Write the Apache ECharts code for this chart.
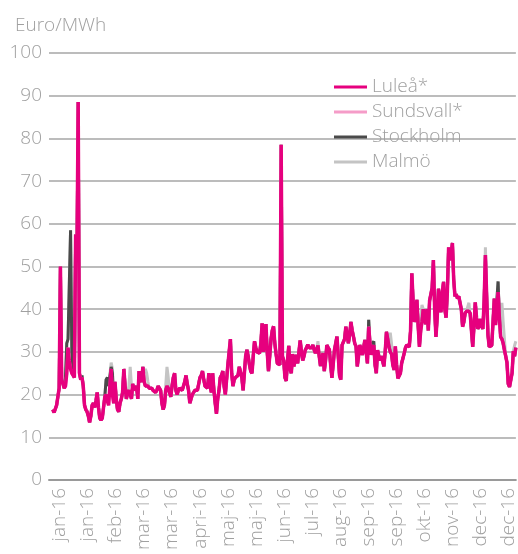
<!DOCTYPE html>
<html>
<head>
<meta charset="utf-8">
<script src="https://cdn.jsdelivr.net/npm/echarts@6/dist/echarts.min.js"></script>
<style>
  html, body { margin: 0; padding: 0; background: #fff; }
  #chart { width: 518px; height: 554px; }
</style>
</head>
<body>
<div id="chart"></div>
<script>
// daily prices 2016, day 0 = 1 jan
const lulea = [
  16.5, 15.8, 15.5, 17.5, 19.5, 21.5, 50, 23.5, 22.5, 21.5, 22, 25, 31, 28, 26, 25, 24.5, 24, 57.5, 51, 88.5, 25, 23.5, 24, 22, 17.5, 16.5, 16, 15, 13.5, 15,
  17.5, 18, 17, 18.5, 20.5, 17, 14.5, 14, 14.5, 17, 19.5, 20, 18.5, 17.5, 22, 26, 20, 18, 23, 19, 16.5, 16, 18, 19, 20.5, 26, 22, 19, 20.5,
  21, 20, 19, 22.5, 21, 21.5, 22, 19, 25.5, 23.5, 23, 26.5, 23, 22, 22, 22, 21.5, 21.5, 21.5, 21, 21, 20.5, 21, 22, 21.5, 21, 18, 16.5, 17.5, 21, 22,
  21.5, 20.5, 19.5, 22, 24, 25, 21, 20, 21, 21.5, 21.5, 21, 22, 23, 24.5, 22.5, 21, 18, 19, 20, 20.5, 21, 21, 21, 21, 24, 24.5, 25.5, 23.5, 22,
  22, 21.5, 25, 22, 20.5, 25, 21, 18, 15.5, 19, 21, 24, 24.5, 25.5, 22, 20, 20, 27, 30, 33, 25, 22, 23.5, 24, 24, 24.5, 26.5, 26.5, 24, 21, 25,
  29, 30.5, 29, 27, 25.5, 25, 29, 32.5, 31, 30, 30, 29.7, 32, 36.7, 30, 33, 36.5, 30, 25.5, 29, 33, 35, 36, 32, 29.5, 27.3, 27, 27, 78.5, 29,
  28, 24, 23.2, 28, 31.4, 26, 25, 29.5, 26.6, 28, 29.3, 27.3, 30, 32.7, 30, 28, 29, 30.4, 31, 31.7, 31, 30.8, 31, 31.6, 30.5, 29.7, 30.5, 31.5, 29, 26.7, 28.5,
  29.7, 25.5, 28, 31.6, 31, 30.5, 27, 23.9, 27, 30.4, 32, 33.6, 29, 24.5, 23.5, 31.6, 32, 33, 35.9, 34, 32, 34, 37, 35, 33.6, 32, 31.3, 26.6, 29, 31.6, 30.5,
  29.3, 31, 32.8, 30, 27.3, 35.9, 32, 29.3, 30.5, 31.6, 27, 25, 30.4, 29, 28, 29, 29, 26.6, 30, 34.7, 33, 31.2, 30, 29.5, 27, 25.8, 31.3, 27, 23.8, 23.5,
  25, 27.4, 28.5, 29.7, 31, 31.6, 31.5, 31.2, 35, 48.4, 42, 37, 39, 42.2, 36, 31.2, 35, 37, 40, 38, 36.5, 40, 35, 42, 43.5, 45, 51.5, 40, 33.5, 38, 44.8,
  41, 39.3, 44, 46.4, 40, 38, 44, 54.5, 51.5, 53, 55.5, 47, 43, 43.5, 42.5, 43, 43, 40, 35.9, 37, 39, 39.5, 39.5, 39.5, 39, 35, 31.2, 36, 41.6, 38,
  35.4, 36, 37.7, 36, 35.4, 42, 52.7, 43, 34, 31.2, 31, 31.5, 37, 42.5, 36.3, 40, 44, 38, 33.5, 33, 32, 30.4, 29, 27.5, 22.5, 21.8, 22, 25, 30.2, 29, 31
];
const sundsvall = [
  16.5, 15.8, 15.5, 17.5, 19.5, 21.5, 50, 23.5, 22.5, 21.5, 22, 25, 31, 28, 26, 25, 24.5, 24, 57.5, 51, 88.5, 25, 23.5, 24, 22, 17.5, 16.5, 16, 15, 13.5, 15,
  17.5, 18, 17, 18.5, 20.5, 17, 14.5, 14, 14.5, 17, 19.5, 20, 18.5, 17.5, 22, 26, 20, 18, 23, 19, 16.5, 16, 18, 19, 20.5, 26, 22, 19, 20.5,
  21, 20, 19, 22.5, 21, 21.5, 22, 19, 25.5, 23.5, 23, 26.5, 23, 22, 22, 22, 21.5, 21.5, 21.5, 21, 21, 20.5, 21, 22, 21.5, 21, 18, 16.5, 17.5, 21, 22,
  21.5, 20.5, 19.5, 22, 24, 25, 21, 20, 21, 21.5, 21.5, 21, 22, 23, 24.5, 22.5, 21, 18, 19, 20, 20.5, 21, 21, 21, 21, 24, 24.5, 25.5, 23.5, 22,
  22, 21.5, 25, 22, 20.5, 25, 21, 18, 15.5, 19, 21, 24, 24.5, 25.5, 22, 20, 20, 27, 30, 33, 25, 22, 23.5, 24, 24, 24.5, 26.5, 26.5, 24, 21, 25,
  29, 30.5, 29, 27, 25.5, 25, 29, 32.5, 31, 30, 30, 29.7, 32, 36.7, 30, 33, 36.5, 30, 25.5, 29, 33, 35, 36, 32, 29.5, 27.3, 27, 27, 78.5, 29,
  28, 24, 23.2, 28, 31.4, 26, 25, 29.5, 26.6, 28, 29.3, 27.3, 30, 32.7, 30, 28, 29, 30.4, 31, 31.7, 31, 30.8, 31, 31.6, 30.5, 29.7, 30.5, 31.5, 29, 26.7, 28.5,
  29.7, 25.5, 28, 31.6, 31, 30.5, 27, 23.9, 27, 30.4, 32, 33.6, 29, 24.5, 23.5, 31.6, 32, 33, 35.9, 34, 32, 34, 37, 35, 33.6, 32, 31.3, 26.6, 29, 31.6, 30.5,
  29.3, 31, 32.8, 30, 27.3, 35.9, 32, 29.3, 30.5, 31.6, 27, 25, 30.4, 29, 28, 29, 29, 26.6, 30, 34.7, 33, 31.2, 30, 29.5, 27, 25.8, 31.3, 27, 23.8, 23.5,
  25, 27.4, 28.5, 29.7, 31, 31.6, 31.5, 31.2, 35, 48.4, 42, 37, 39, 42.2, 36, 31.2, 35, 37, 40, 38, 36.5, 40, 35, 42, 43.5, 45, 51.5, 40, 33.5, 38, 44.8,
  41, 39.3, 44, 46.4, 40, 38, 44, 54.5, 51.5, 53, 55.5, 47, 43, 43.5, 42.5, 43, 43, 40, 35.9, 37, 39, 39.5, 39.5, 39.5, 39, 35, 31.2, 36, 41.6, 38,
  35.4, 36, 37.7, 36, 35.4, 42, 52.7, 43, 34, 31.2, 31, 31.5, 37, 42.5, 36.3, 40, 44, 38, 33.5, 33, 32, 30.4, 29, 27.5, 22.5, 21.8, 22, 25, 30.2, 29, 31
];
const stockholm = [
  16.5, 15.8, 15.5, 17.5, 19.5, 21.5, 50, 23.5, 22.5, 21.5, 24, 32, 33, 33, 58.5, 30, 25, 24, 57.5, 51, 88.5, 25, 23.5, 24.5, 22, 17.5, 16.5, 16, 15, 13.5, 15,
  17.5, 18, 17, 18.5, 20.5, 17, 14.5, 14, 14.5, 17, 19.5, 23.5, 24, 22, 22, 26.5, 25, 18, 23, 19, 16.5, 16, 18, 19, 20.5, 26, 22, 19, 20.5,
  21, 20, 19, 22.5, 21, 21.5, 22, 19, 25.5, 23.5, 23, 26.5, 23, 22, 22, 22, 21.5, 21.5, 21.5, 21, 21, 20.5, 21, 22, 21.5, 21, 18, 16.5, 17.5, 21, 22,
  21.5, 20.5, 19.5, 22, 24, 25, 21, 20, 21, 21.5, 21.5, 21, 22, 23, 24.5, 22.5, 21, 18, 19, 20, 20.5, 21, 21, 21, 21, 24, 24.5, 25.5, 23.5, 22,
  22, 21.5, 25, 22, 20.5, 25, 21, 18, 15.5, 19, 21, 24, 24.5, 25.5, 22, 20, 20, 27, 30, 33, 25, 22, 23.5, 24, 24, 24.5, 26.5, 26.5, 24, 21, 25,
  29, 30.5, 29, 27, 25.5, 25, 29, 32.5, 31, 30, 30, 29.7, 32, 36.7, 30, 33, 36.5, 30, 25.5, 29, 33, 35, 36, 32, 29.5, 27.3, 27, 27, 78.5, 29,
  28, 24, 23.2, 28, 31.4, 26, 25, 29.5, 26.6, 28, 29.3, 27.3, 30, 32.7, 30, 28, 29, 30.4, 31, 31.7, 31, 30.8, 31, 31.6, 30.5, 29.7, 30.5, 31.5, 29, 26.7, 28.5,
  29.7, 25.5, 28, 31.6, 31, 30.5, 27, 23.9, 27, 30.4, 32, 33.6, 29, 24.5, 23.5, 31.6, 32, 33, 35.9, 34, 32, 34, 37, 35, 33.6, 32, 31.3, 26.6, 29, 31.6, 30.5,
  29.3, 31, 32.8, 30, 27.3, 37.5, 32, 29.3, 32, 32.5, 27, 25, 30.4, 29, 28, 29, 29, 26.6, 30, 34.7, 33, 31.2, 30, 29.5, 27, 25.8, 31.3, 27, 23.8, 23.5,
  25, 27.4, 28.5, 29.7, 31, 31.6, 31.5, 31.2, 35, 48.4, 42, 37, 39, 42.2, 36, 31.2, 35, 37, 40, 38, 36.5, 40, 35, 42, 43.5, 45, 51.5, 40, 33.5, 38, 44.8,
  41, 39.3, 44, 46.4, 40, 38, 44, 54.5, 51.5, 53, 55.5, 47, 43, 43.5, 42.5, 43, 43, 40, 35.9, 37, 39, 39.5, 39.5, 39.5, 39, 35, 31.2, 36, 41.6, 38,
  35.4, 36, 37.7, 36, 35.4, 42, 52.7, 43, 34, 31.2, 31, 31.5, 37, 42.5, 36.3, 42, 46.5, 38, 33.5, 33, 32, 30.4, 29, 27.5, 22.5, 21.8, 22, 25, 30.2, 29, 31
];
const malmo = [
  16.5, 15.8, 15.5, 17.5, 19.5, 21.5, 50, 23.5, 22.5, 21.5, 24, 32, 33, 33, 58.5, 30, 25, 24, 57.5, 51, 88.5, 25, 23.5, 24.5, 22, 17.5, 16.5, 16, 15, 13.5, 15,
  17.5, 18, 17, 18.5, 20.5, 17, 14.5, 14, 14.5, 17, 19.5, 23.5, 24, 22, 22, 27.5, 26, 18, 23, 19, 16.5, 16, 18, 19, 20.5, 26, 22, 19, 20.5,
  22, 26.5, 22, 22.5, 21, 21.5, 22, 19, 25.5, 23.5, 23, 26.5, 25.5, 26, 25, 23, 21.5, 21.5, 21.5, 21, 21, 20.5, 21, 22, 21.5, 21, 18, 16.5, 17.5, 22, 26.5,
  24, 20.5, 19.5, 22, 24, 25, 21, 20, 21, 21.5, 21.5, 21, 22, 23, 24.5, 22.5, 21, 18, 19, 20, 20.5, 21, 21, 21, 21, 24, 24.5, 25.5, 23.5, 22,
  22, 21.5, 25, 22, 20.5, 25, 21, 18, 15.5, 19, 21, 24, 24.5, 25.5, 22, 20, 20, 27, 30, 33, 25, 22, 23.5, 24, 24, 24.5, 26.5, 26.5, 24, 21, 25,
  29, 30.5, 29, 27, 25.5, 25, 29, 32.5, 31, 30, 30, 29.7, 32, 36.7, 30, 33, 36.5, 30, 25.5, 29, 33, 35, 36, 32, 29.5, 27.3, 27, 27, 78.5, 29,
  28, 24, 23.2, 28, 31.4, 26, 25, 29.5, 26.6, 28, 29.3, 27.3, 30, 32.7, 30, 28, 29, 30.4, 31, 31.7, 31, 30.8, 31, 31.6, 30.5, 29.7, 30.5, 32.5, 29, 26.7, 28.5,
  29.7, 25.5, 28, 31.6, 31, 30.5, 27, 23.9, 27, 30.4, 32, 33.6, 29, 24.5, 23.5, 31.6, 32, 33, 35.9, 34, 32, 34, 37, 35, 33.6, 32, 31.3, 26.6, 29, 31.6, 30.5,
  29.3, 31, 32.8, 30, 27.3, 37.5, 32, 29.3, 32, 32.5, 27, 25, 30.4, 29, 28, 29, 29, 26.6, 30, 34.7, 33, 31.2, 34.5, 32, 27, 25.8, 31.3, 27, 23.8, 23.5,
  25, 27.4, 28.5, 29.7, 31, 31.6, 31.5, 31.2, 35, 48.4, 42, 37, 39, 42.2, 36, 31.2, 38, 41, 40, 38, 36.5, 40, 35, 42, 43.5, 45, 51.5, 40, 33.5, 38, 44.8,
  41, 39.3, 44, 46.4, 40, 38, 44, 54.5, 51.5, 53, 55.5, 47, 43, 43.5, 42.5, 43, 43, 40, 35.9, 37, 39, 39.5, 39.5, 41.5, 41.5, 35, 31.2, 36, 41.6, 38,
  35.4, 36, 37.7, 36, 35.4, 42, 54.5, 43, 34, 31.2, 31, 31.5, 37, 42.5, 36.3, 42, 46.5, 38, 36, 41.5, 37, 33, 29, 27.5, 22.5, 21.8, 22, 25, 30.2, 31.5, 32.5
];
const xLabels = ['jan-16', 'jan-16', 'feb-16', 'mar-16', 'mar-16', 'apri-16', 'maj-16', 'maj-16', 'jun-16',
  'jul-16', 'aug-16', 'sep-16', 'sep-16', 'okt-16', 'nov-16', 'dec-16', 'dec-16'];
const seriesNames = ['Luleå*', 'Sundsvall*', 'Stockholm', 'Malmö'];
const seriesColors = ['#e6007e', '#f59cc8', '#4a4a4a', '#c4c4c4'];

const labelStart = 5.6;
const labelStep = 22.1;
const labelDays = xLabels.map((_, i) => labelStart + i * labelStep);

const font = "'Open Sans', sans-serif";
const textGray = '#a0a0a0';

function toPoints(arr) {
  return arr.map((v, i) => [i, v]);
}

const chart = echarts.init(document.getElementById('chart'));
const seriesData = [lulea, sundsvall, stockholm, malmo];
// draw Malmö first so Luleå ends up on top
const series = [3, 2, 1, 0].map((k) => ({
  name: seriesNames[k],
  type: 'line',
  data: toPoints(seriesData[k]),
  showSymbol: false,
  symbol: 'none',
  color: seriesColors[k],
  lineStyle: { width: k == 0 ? 3.5 : 3, color: seriesColors[k] },
  z: 10 - k,
}));

chart.setOption({
  animation: false,
  title: {
    text: 'Euro/MWh',
    left: 10,
    top: 11,
    textStyle: { fontFamily: font, fontWeight: 300, fontSize: 19, color: textGray },
  },
  legend: {
    data: seriesNames,
    orient: 'vertical',
    left: 329,
    top: 71,
    icon: 'rect',
    itemWidth: 33,
    itemHeight: 3,
    itemGap: 3,
    textStyle: { fontFamily: font, fontWeight: 300, fontSize: 19, lineHeight: 22, color: textGray },
  },
  grid: { left: 49, right: 0, top: 53, bottom: 74, containLabel: false },
  xAxis: {
    type: 'value',
    min: -3,
    max: 365,
    axisLine: { show: true, lineStyle: { color: '#9a9a9a', width: 2 } },
    axisTick: { show: false },
    splitLine: { show: false },
    axisLabel: {
      customValues: labelDays,
      rotate: 90,
      margin: 8,
      fontFamily: font,
      fontWeight: 300,
      fontSize: 19,
      color: textGray,
      formatter: (v) => xLabels[Math.round((v - labelStart) / labelStep)],
    },
  },
  yAxis: {
    type: 'value',
    min: 0,
    max: 100,
    interval: 10,
    axisLine: { show: false },
    axisTick: { show: false },
    splitLine: { lineStyle: { color: '#a6a6a6', width: 1.5 } },
    axisLabel: {
      margin: 7,
      fontFamily: font,
      fontWeight: 300,
      fontSize: 19,
      color: textGray,
    },
  },
  series: series,
});
</script>
</body>
</html>
